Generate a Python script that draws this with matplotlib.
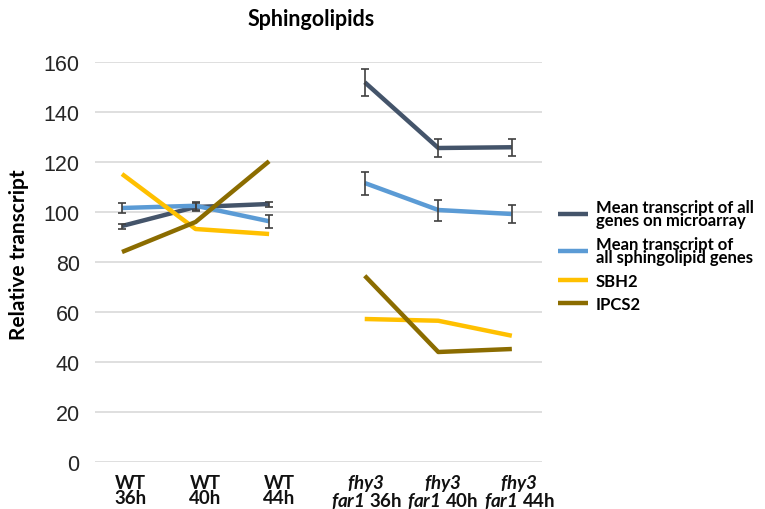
import matplotlib
matplotlib.use("Agg")
import matplotlib.pyplot as plt
import numpy as np
from matplotlib.transforms import blended_transform_factory

plt.rcParams["mathtext.fontset"] = "custom"
plt.rcParams["mathtext.it"] = "Lato:italic:bold"
plt.rcParams["mathtext.rm"] = "Lato:italic:bold"
plt.rcParams["mathtext.bf"] = "Lato:italic:bold"

groups = ["WT", "WT", "WT", "fhy3 far1", "fhy3 far1", "fhy3 far1"]
times = ["36h", "40h", "44h", "36h", "40h", "44h"]

mean_all = [94.4, 102.0, 103.2, 151.9, 125.6, 125.9]
mean_all_err = [1.0, 1.5, 1.0, 5.3, 3.7, 3.3]
mean_sph = [101.6, 102.5, 96.3, 111.6, 100.8, 99.2]
mean_sph_err = [2.0, 1.5, 2.7, 4.6, 4.2, 3.5]
sbh2 = [115.2, 93.2, 91.2, 57.2, 56.5, 50.5]
ipcs2 = [84.0, 96.0, 120.3, 74.5, 44.0, 45.2]

series_names = ["Mean transcript of all\ngenes on microarray",
                "Mean transcript of\nall sphingolipid genes",
                "SBH2", "IPCS2"]
colors = ["#44546A", "#5B9BD5", "#FFC000", "#8B6C00"]

xpos = np.array([0, 1, 2, 3.3, 4.3, 5.3])
segs = [slice(0, 3), slice(3, 6)]

fig = plt.figure(figsize=(7.65, 5.1), dpi=100)
ax = fig.add_axes([95/765, 1-463/510, (542-95)/765, 400/510])

data = [(mean_all, mean_all_err), (mean_sph, mean_sph_err), (sbh2, None), (ipcs2, None)]
handles = []
for (vals, err), c, name in zip(data, colors, series_names):
    vals = np.array(vals)
    for k, s in enumerate(segs):
        ln, = ax.plot(xpos[s], vals[s], color=c, lw=3.2, solid_capstyle="butt",
                      label=name if k == 0 else None, zorder=3, clip_on=False)
        if k == 0:
            handles.append(ln)
    if err is not None:
        ax.errorbar(xpos, vals, yerr=err, fmt="none", ecolor="#404040",
                    elinewidth=1.2, capsize=3, capthick=1.2, zorder=4)

ax.set_ylim(0, 160)
ax.set_xlim(-0.367, 5.71)
ax.set_yticks(np.arange(0, 161, 20))
ax.yaxis.grid(True, color="#D9D9D9", lw=1.2)
ax.set_axisbelow(True)
for sp in ax.spines.values():
    sp.set_visible(False)
ax.tick_params(axis="y", length=0, pad=11, labelsize=15.5)
ax.tick_params(axis="x", length=0)
for lab in ax.get_yticklabels():
    lab.set_fontfamily("Liberation Sans")
    lab.set_color("#262626")
ax.set_xticks([])

# x labels
tr = blended_transform_factory(ax.transData, ax.transAxes)
lblfont = dict(family="Lato", fontweight="bold", fontsize=13.5, color="#111111")
offs = [0.12, 0.13, 0.14, 0.02, 0.06, 0.1]
for x, g, t, off in zip(xpos, groups, times, offs):
    if g == "WT":
        s = f"WT\n{t}"
        y0 = -0.03
    else:
        a, b = g.split()
        s = rf"$\mathit{{{a}}}$" + "\n" + rf"$\mathit{{{b}}}$ {t}"
        y0 = -0.024
    ax.text(x + off, y0, s, transform=tr, ha="center", va="top",
            multialignment="center", linespacing=0.85, **lblfont)

fig.text(311/765, 1-19/510, "Sphingolipids", ha="center", va="center",
         family="Lato", fontweight="bold", fontsize=15.5)
fig.text(19/765, 1-255/510, "Relative transcript", ha="center", va="center",
         rotation=90, family="Lato", fontweight="bold", fontsize=15)

leg = fig.legend(handles=handles, loc="upper left", bbox_to_anchor=(543/765, 1-185/510),
                 frameon=False, handlelength=1.8, handletextpad=0.45, labelspacing=0.45,
                 prop=dict(family="Lato", weight="bold", size=12))
for t in leg.get_texts():
    t.set_linespacing(0.8)

fig.savefig("out.png", dpi=100)
